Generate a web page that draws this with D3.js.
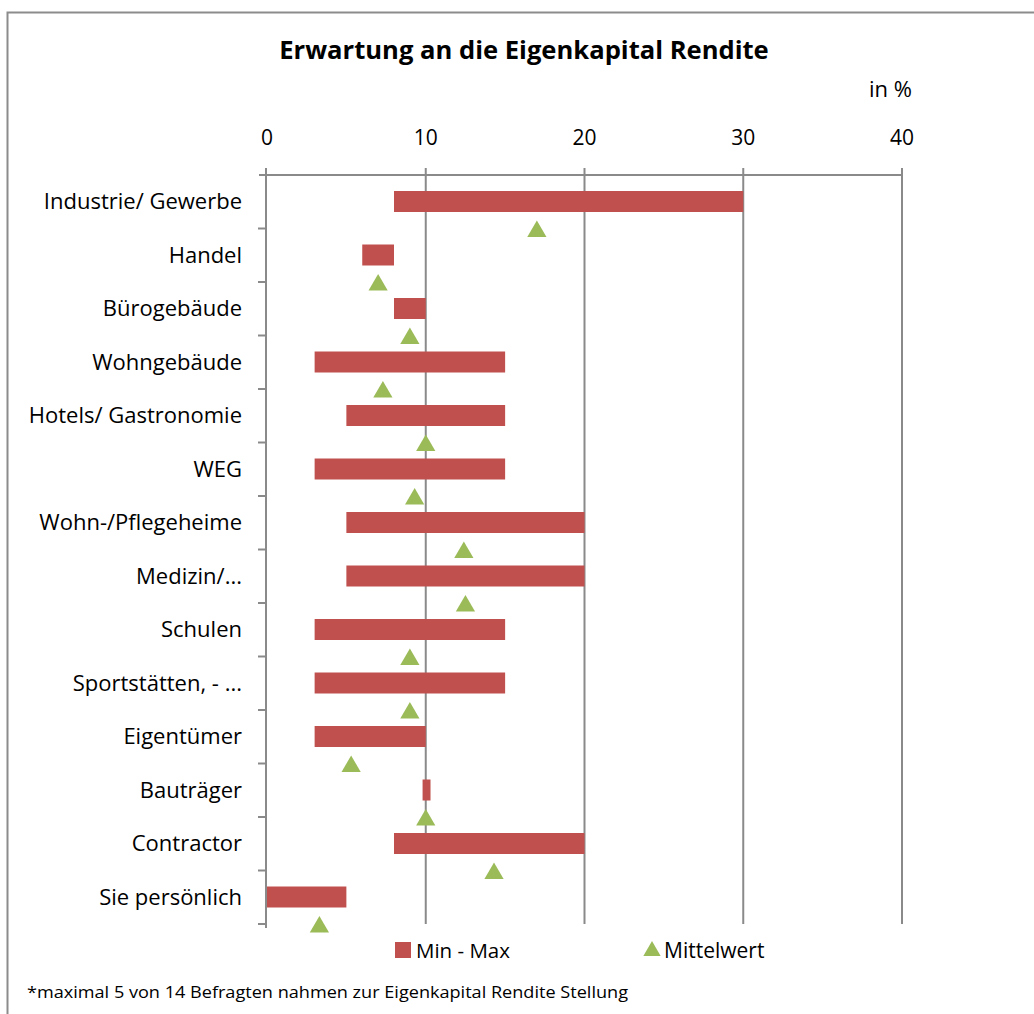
<!DOCTYPE html>
<html>
<head>
<meta charset="utf-8">
<script src="https://cdn.jsdelivr.net/npm/d3@7"></script>
<style>
  body { margin: 0; background: #fff; }
  text { font-family: "Open Sans", "Noto Sans", sans-serif; fill: #000; }
</style>
</head>
<body>
<div id="chart"></div>
<script>
// data
const categories = ['Industrie/ Gewerbe', 'Handel', 'Bürogebäude', 'Wohngebäude',
  'Hotels/ Gastronomie', 'WEG', 'Wohn-/Pflegeheime', 'Medizin/...', 'Schulen',
  'Sportstätten, - ...', 'Eigentümer', 'Bauträger', 'Contractor', 'Sie persönlich'];
const minValues  = [8, 6, 8, 3, 5, 3, 5, 5, 3, 3, 3, 9.8, 8, 0];
const maxValues  = [30, 8, 10, 15, 15, 15, 20, 20, 15, 15, 10, 10.3, 20, 5];
const meanValues = [17, 7, 9, 7.3, 10, 9.3, 12.4, 12.5, 9, 9, 5.3, 10, 14.3, 3.3];
const xTicks = [0, 10, 20, 30, 40];

const data = categories.map((c, i) => ({ name: c, min: minValues[i], max: maxValues[i], mean: meanValues[i] }));

const W = 1034, H = 1014;
const plot = { left: 267, right: 902, top: 175, bottom: 924 };

const svg = d3.select('#chart').append('svg')
  .attr('width', W).attr('height', H);

// outer frame
svg.append('rect')
  .attr('x', 7.5).attr('y', 12.5)
  .attr('width', W).attr('height', H)
  .attr('fill', 'none').attr('stroke', '#8c8c8c').attr('stroke-width', 2);

const x = d3.scaleLinear().domain([0, 40]).range([plot.left, plot.right]);
const y = d3.scaleBand().domain(categories).range([plot.top, plot.bottom]).padding(0);

const gridColor = '#8a8a8a';

// vertical grid lines
svg.append('g').selectAll('line')
  .data(xTicks.slice(1))
  .join('line')
    .attr('x1', d => x(d)).attr('x2', d => x(d))
    .attr('y1', plot.top - 7).attr('y2', plot.bottom)
    .attr('stroke', gridColor).attr('stroke-width', 2);

// top axis line
svg.append('line')
  .attr('x1', plot.left - 8).attr('x2', plot.right)
  .attr('y1', plot.top).attr('y2', plot.top)
  .attr('stroke', gridColor).attr('stroke-width', 2);

// left axis line
svg.append('line')
  .attr('x1', plot.left - 1).attr('x2', plot.left - 1)
  .attr('y1', plot.top - 7).attr('y2', plot.bottom + 4)
  .attr('stroke', gridColor).attr('stroke-width', 2);

// category boundary ticks
svg.append('g').selectAll('line')
  .data(categories.slice(1).map(c => y(c)).concat([plot.bottom]))
  .join('line')
    .attr('x1', plot.left - 9).attr('x2', plot.left - 1)
    .attr('y1', d => d).attr('y2', d => d)
    .attr('stroke', gridColor).attr('stroke-width', 2);

// x tick labels
svg.append('g').selectAll('text')
  .data(xTicks)
  .join('text')
    .attr('x', d => x(d)).attr('y', 145)
    .attr('text-anchor', 'middle')
    .attr('font-size', 21)
    .text(d => d);

// category labels
svg.append('g').selectAll('text')
  .data(categories)
  .join('text')
    .attr('x', 242).attr('y', d => y(d) + y.bandwidth() / 2)
    .attr('dy', '0.35em')
    .attr('text-anchor', 'end')
    .attr('font-size', 22)
    .text(d => d);

// min-max bars
const barH = 21;
svg.append('g').selectAll('rect')
  .data(data)
  .join('rect')
    .attr('x', d => x(d.min))
    .attr('width', d => x(d.max) - x(d.min))
    .attr('y', d => y(d.name) + 16)
    .attr('height', barH)
    .attr('fill', '#c0504d');

// mean triangles
const tri = d3.symbol().type(d3.symbolTriangle).size(160);
svg.append('g').selectAll('path')
  .data(data)
  .join('path')
    .attr('d', tri)
    .attr('transform', d => `translate(${x(d.mean)},${y(d.name) + y.bandwidth() + 3})`)
    .attr('fill', '#9bbb59');

// title
svg.append('text')
  .attr('x', 524).attr('y', 59)
  .attr('text-anchor', 'middle')
  .attr('font-size', 25.6).attr('font-weight', 'bold')
  .text('Erwartung an die Eigenkapital Rendite');

svg.append('text')
  .attr('x', 912).attr('y', 97)
  .attr('text-anchor', 'end')
  .attr('font-size', 22)
  .text('in %');

// legend
const legend = svg.append('g');
legend.append('rect')
  .attr('x', 395).attr('y', 942).attr('width', 16).attr('height', 16)
  .attr('fill', '#c0504d');
legend.append('text')
  .attr('x', 416).attr('y', 958).attr('font-size', 20.5)
  .text('Min - Max');
legend.append('path')
  .attr('d', d3.symbol().type(d3.symbolTriangle).size(130))
  .attr('transform', 'translate(652,951)')
  .attr('fill', '#9bbb59');
legend.append('text')
  .attr('x', 664).attr('y', 958).attr('font-size', 21)
  .text('Mittelwert');

// footnote
svg.append('text')
  .attr('x', 27).attr('y', 998)
  .attr('font-size', 16)
  .attr('textLength', 601).attr('lengthAdjust', 'spacingAndGlyphs')
  .text('*maximal 5 von 14 Befragten nahmen zur Eigenkapital Rendite Stellung');
</script>
</body>
</html>
